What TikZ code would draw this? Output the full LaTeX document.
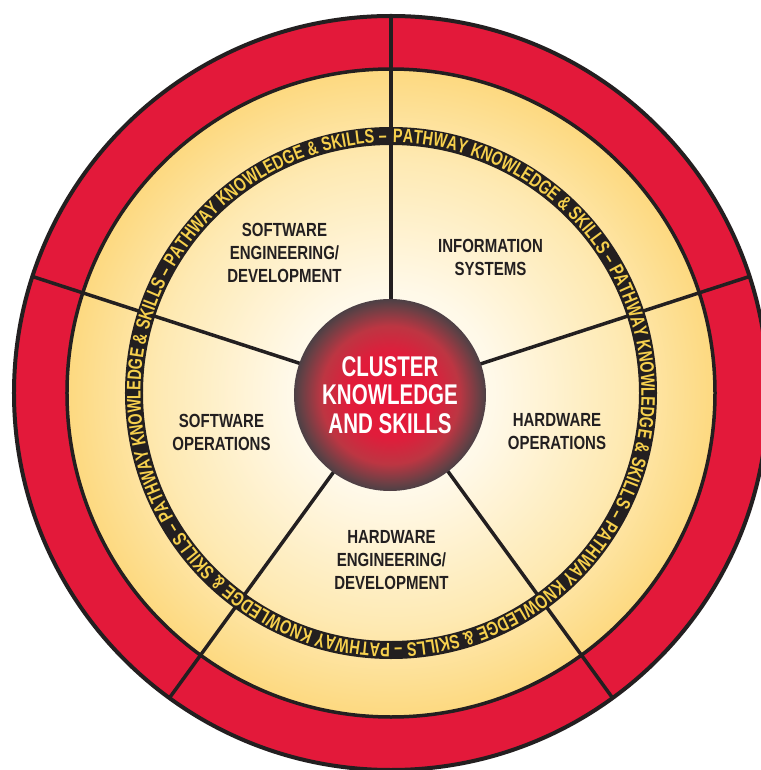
\documentclass[tikz,border=0pt]{standalone}
\usepackage{fontspec}
\usetikzlibrary{decorations.text}
\newfontfamily\condlab{Liberation Sans}[FakeStretch=0.79]
\newfontfamily\condctr{Liberation Sans}[FakeStretch=0.72]
\newfontfamily\condband{Liberation Sans}[FakeStretch=0.74]
\newcommand\labfont{\condlab\bfseries\fontsize{19}{23}\selectfont}
\newcommand\ctrfont{\condctr\bfseries\fontsize{28.5}{28.5}\selectfont}
\newcommand\bandfont{\condband\bfseries\fontsize{19.5}{19.5}\selectfont\color{bandyel}}
\definecolor{ringred}{HTML}{E3193A}
\definecolor{ink}{HTML}{231F20}
\definecolor{bandyel}{HTML}{F6D04D}
\pgfdeclareradialshading{yelshade}{\pgfpoint{0bp}{0bp}}{rgb(0bp)=(1,1,1); rgb(8bp)=(1,0.975,0.91); rgb(18bp)=(0.996,0.915,0.70); rgb(25bp)=(0.992,0.85,0.50); rgb(50bp)=(0.992,0.85,0.50)}
\pgfdeclareradialshading{redshade}{\pgfpoint{0bp}{0bp}}{rgb(0bp)=(0.90,0.09,0.22); rgb(11bp)=(0.88,0.11,0.23); rgb(18bp)=(0.74,0.21,0.26); rgb(23bp)=(0.42,0.25,0.27); rgb(25bp)=(0.30,0.25,0.27); rgb(50bp)=(0.30,0.25,0.27)}
\tikzset{
  lab/.style={font=\labfont, text=ink, align=center, inner sep=0pt},
  divider/.style={draw=ink, line width=3.5pt},
  rim/.style={draw=ink, line width=3.5pt}
}
\begin{document}
\begin{tikzpicture}[x=1pt,y=1pt]
\useasboundingbox (-391,-377) rectangle (369,393);
\coordinate (o) at (0,0);
% red outer ring
\fill[ringred] (o) circle (377);
% yellow disc
\shade[shading=yelshade] (o) circle (324);
% dividers
\foreach \a in {90,162,234,306,18}{
  \coordinate (e\a) at (\a:377);
  \draw[divider] (o) -- (e\a);
}
% rims
\draw[rim] (o) circle (324);
\draw[draw=ink, line width=4pt] (o) circle (377);
% text band
\draw[draw=ink, line width=18pt] (o) circle (257);
\path[decorate, decoration={text along path, text align=fit to path,
  text={|\bandfont|PATHWAY KNOWLEDGE {\&} SKILLS – PATHWAY KNOWLEDGE {\&} SKILLS – PATHWAY KNOWLEDGE {\&} SKILLS – PATHWAY KNOWLEDGE {\&} SKILLS – PATHWAY KNOWLEDGE {\&} SKILLS – PATHWAY KNOWLEDGE {\&} SKILLS –{\kern6pt}}}]
  (89.6:250.5) arc[start angle=89.6, end angle=-270.4, radius=250.5];
% center
\node[circle, minimum size=192pt, inner sep=0pt, shade, shading=redshade,
  font=\ctrfont, text=white, align=center] (c) at (-1,-2) {CLUSTER\\KNOWLEDGE\\AND SKILLS};
% labels
\node[lab] (swe) at (-106.5,140.5) {SOFTWARE\\ENGINEERING/\\DEVELOPMENT};
\node[lab] (is) at (99.5,136) {INFORMATION\\SYSTEMS};
\node[lab] (swo) at (-169.5,-39) {SOFTWARE\\OPERATIONS};
\node[lab] (hwo) at (166,-38.5) {HARDWARE\\OPERATIONS};
\node[lab] (hwe) at (0.5,-167) {HARDWARE\\ENGINEERING/\\DEVELOPMENT};
\end{tikzpicture}
\end{document}
